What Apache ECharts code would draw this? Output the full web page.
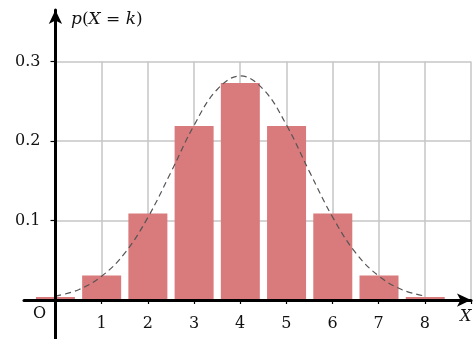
<!DOCTYPE html>
<html>
<head>
<meta charset="utf-8">
<script src="https://cdn.jsdelivr.net/npm/echarts@6/dist/echarts.min.js"></script>
<style>
  html, body { margin: 0; padding: 0; background: #fff; }
  #chart { width: 474px; height: 339px; }
</style>
</head>
<body>
<div id="chart"></div>
<script>
// k values and probabilities
const ks = [0, 1, 2, 3, 4, 5, 6, 7, 8]
const probs = [0.004, 0.031, 0.109, 0.219, 0.273, 0.219, 0.109, 0.031, 0.004]
// dashed bell curve, read at half steps
const curveX = [0, 0.5, 1, 1.5, 2, 2.5, 3, 3.5, 4, 4.5, 5, 5.5, 6, 6.5, 7, 7.5, 8]
const curveY = [0.005, 0.013, 0.03, 0.059, 0.104, 0.161, 0.22, 0.265, 0.282, 0.265, 0.22, 0.161, 0.104, 0.059, 0.03, 0.013, 0.005]
const yTicks = [0.1, 0.2, 0.3]

const serif = 'DejaVu Serif'
let myChart = echarts.init(document.getElementById('chart'))

option = {
    animation: false,
    title: {
        text: '{i|p}{n|(}{i|X}{n| = }{i|k}{n|)}',
        left: 66,
        top: 6,
        textStyle: {
            rich: {
                i: { fontFamily: serif, fontStyle: 'italic', fontWeight: 'normal', fontSize: 17, color: '#111' },
                n: { fontFamily: serif, fontWeight: 'normal', fontSize: 17, color: '#111' }
            }
        }
    },
    graphic: [
        { type: 'text', left: 33, top: 306, style: { text: 'O', font: '16px "DejaVu Serif"', fill: '#111' } },
        { type: 'text', left: 460, top: 309, style: { text: 'X', font: 'italic 16px "DejaVu Serif"', fill: '#111' } }
    ],
    grid: [
        // grid for the data and the arrowed axes
        { left: 24, right: 3, top: 10, bottom: 0 },
        // grid for the gray lines and the labels
        { left: 55.5, right: 2.7, top: 61.5, bottom: 39 }
    ],
    xAxis: [
        {
            type: 'value',
            min: -0.68,
            max: 8.99,
            z: 10,
            axisLine: {
                onZero: true,
                symbol: ['none', 'arrow'],
                symbolSize: [10, 14],
                lineStyle: { color: '#000', width: 3 }
            },
            axisTick: { show: false },
            axisLabel: { show: false },
            splitLine: { show: false }
        },
        {
            gridIndex: 1,
            type: 'value',
            min: 0,
            max: 9,
            interval: 1,
            axisLine: { show: false },
            axisTick: { show: true, length: 4, lineStyle: { color: '#000', width: 1.2 } },
            axisLabel: {
                margin: 16,
                fontFamily: serif,
                fontSize: 16,
                color: '#111',
                formatter: v => (v >= 1 && v <= 8) ? String(v) : ''
            },
            splitLine: { show: true, lineStyle: { color: '#c6c6c6', width: 1.5 } }
        }
    ],
    yAxis: [
        {
            type: 'value',
            min: -0.049,
            max: 0.365,
            z: 10,
            axisLine: {
                onZero: true,
                symbol: ['none', 'arrow'],
                symbolSize: [10, 14],
                lineStyle: { color: '#000', width: 3 }
            },
            axisTick: { show: false },
            axisLabel: { show: false },
            splitLine: { show: false }
        },
        {
            gridIndex: 1,
            type: 'value',
            min: 0,
            max: 0.3,
            interval: 0.1,
            axisLine: { show: false },
            axisTick: { show: true, length: 5, lineStyle: { color: '#000', width: 1.2 } },
            axisLabel: {
                margin: 15,
                fontFamily: serif,
                fontSize: 16,
                color: '#111',
                formatter: v => yTicks.some(t => Math.abs(t - v) < 1e-9) ? v.toFixed(1) : ''
            },
            splitLine: { show: true, lineStyle: { color: '#c6c6c6', width: 1.5 } }
        }
    ],
    series: [
        {
            name: 'p',
            type: 'bar',
            xAxisIndex: 0,
            yAxisIndex: 0,
            barWidth: 39,
            clip: false,
            itemStyle: { color: '#d97a7c' },
            data: ks.map((k, i) => [k, probs[i]])
        },
        {
            name: 'curve',
            type: 'line',
            xAxisIndex: 0,
            yAxisIndex: 0,
            smooth: 0.4,
            showSymbol: false,
            z: 5,
            lineStyle: { color: '#555', width: 1.2, type: [6, 4] },
            data: curveX.map((x, i) => [x, curveY[i]])
        }
    ]
};
myChart.setOption(option);
</script>
</body>
</html>
